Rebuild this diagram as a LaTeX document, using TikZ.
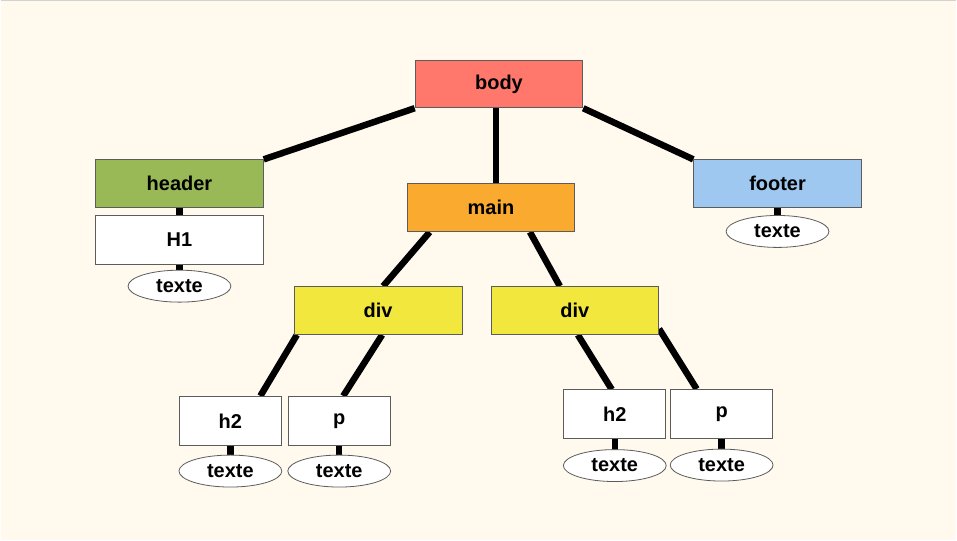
\documentclass[tikz,border=0pt]{standalone}
\usepackage{fontspec}
\setmainfont{Liberation Sans}
\usetikzlibrary{positioning,shapes.geometric,backgrounds}

\definecolor{pagecream}{HTML}{FFF9EE}
\definecolor{boxline}{HTML}{5C5C5C}
\definecolor{bodyred}{HTML}{FF786B}
\definecolor{headgreen}{HTML}{98B956}
\definecolor{mainorange}{HTML}{FAAA2E}
\definecolor{footblue}{HTML}{9EC8F0}
\definecolor{divyellow}{HTML}{F1E73D}

\begin{document}
\begin{tikzpicture}[
			x=1pt, y=-1pt,
			node distance=7pt,
			tag/.style={draw=boxline, line width=0.8pt, rectangle, minimum width=168pt, minimum height=48pt, inner sep=0pt, align=center, font=\fontsize{20}{24}\selectfont\bfseries},
			smalltag/.style={tag, fill=white, minimum width=102pt, minimum height=49pt},
			leaf/.style={draw=boxline, line width=0.8pt, ellipse, fill=white, minimum width=103pt, minimum height=32pt, inner sep=0pt, font=\fontsize{20}{24}\selectfont\bfseries},
			link/.style={line width=6.5pt, black}
			]
			% Boites
			\node[tag, fill=bodyred] (body) at (499,84) {body};
			\node[tag, fill=headgreen] (header) at (179,184) {header};
			\node[tag, fill=white, minimum height=49pt, below=of header] (h1) {H1};
			\node[leaf, below=5pt of h1] (th1) {texte};
			\node[tag, fill=mainorange] (main) at (491,208) {main};
			\node[tag, fill=footblue] (footer) at (778,184) {footer};
			\node[leaf, below=of footer] (tfooter) {texte};
			\node[tag, fill=divyellow] (divl) at (378,311) {div};
			\node[tag, fill=divyellow] (divr) at (575,311) {div};
			\node[smalltag] (h2l) at (230,421.5) {h2};
			\node[smalltag] (pl) at (339,421.5) {p};
			\node[smalltag] (h2r) at (615,415) {h2};
			\node[smalltag] (pr) at (722,414.5) {p};
			\node[leaf, below=9pt of h2l] (th2l) {texte};
			\node[leaf, below=9pt of pl] (tpl) {texte};
			\node[leaf, below=10pt of h2r] (th2r) {texte};
			\node[leaf, below=10pt of pr] (tpr) {texte};

			\begin{scope}[on background layer]
				% Fond
				\fill[pagecream] (0,0) rectangle (957,541);
				\draw[gray!35, line width=1.5pt] (0,0.75) -- (957,0.75);
				% Liens
				\draw[link] (body.south west) -- (header.north east);
				\draw[link] ([xshift=-3pt]body.south) -- ([xshift=-3pt]body.south |- main.north);
				\draw[link] (body.south east) -- (footer.north west);
				\draw[link] (header) -- (h1);
				\draw[link] (h1) -- (th1);
				\draw[link] (footer) -- (tfooter);
				\draw[link] ([xshift=23pt]main.south west) -- ([xshift=5pt]divl.north);
				\draw[link] ([xshift=39pt]main.south) -- ([xshift=-15pt]divr.north);
				\draw[link] ([xshift=3pt]divl.south west) -- ([xshift=30pt]h2l.north);
				\draw[link] ([xshift=4pt]divl.south) -- ([xshift=4pt]pl.north);
				\draw[link] ([xshift=3pt]divr.south) -- ([xshift=-3pt]h2r.north);
				\draw[link] ([yshift=6pt]divr.south east) -- ([xshift=-25pt]pr.north);
				\draw[link] (h2l) -- (th2l);
				\draw[link] (pl) -- (tpl);
				\draw[link] (h2r) -- (th2r);
				\draw[link] (pr) -- (tpr);
			\end{scope}
			\useasboundingbox (0,0) rectangle (957,541);
		\end{tikzpicture}
\end{document}
